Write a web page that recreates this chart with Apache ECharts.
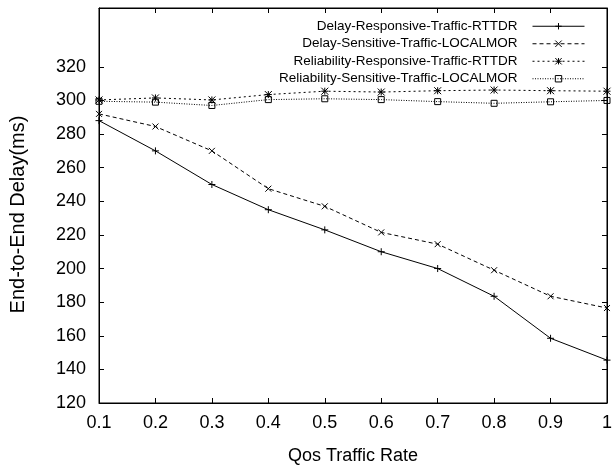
<!DOCTYPE html>
<html>
<head>
<meta charset="utf-8">
<script src="https://cdn.jsdelivr.net/npm/echarts@6/dist/echarts.min.js"></script>
<style>
html,body{margin:0;padding:0;background:#fff;}
#c{width:615px;height:472px;}
</style>
</head>
<body>
<div id="c"></div>
<script>
const categories = ['0.1','0.2','0.3','0.4','0.5','0.6','0.7','0.8','0.9','1'];
const yTicks = [120,140,160,180,200,220,240,260,280,300,320];
const seriesNames = [
  'Delay-Responsive-Traffic-RTTDR',
  'Delay-Sensitive-Traffic-LOCALMOR',
  'Reliability-Responsive-Traffic-RTTDR',
  'Reliability-Sensitive-Traffic-LOCALMOR'
];
const delayResponsive = [288, 270, 250, 235, 223, 210, 200, 183.5, 158.5, 145.5];
const delaySensitive = [292, 284.5, 270, 247.5, 237, 221.5, 214.5, 199, 183.5, 176.5];
const reliabilityResponsive = [300.3, 301.5, 300.3, 303.5, 305.5, 305, 305.8, 306.2, 305.8, 305.5];
const reliabilitySensitive = [299.5, 299, 297, 300.5, 301, 300.5, 299.3, 298.3, 299.2, 300];

const FONT = 'Liberation Sans, Arial, sans-serif';
const SYM_PLUS = 'path://M0,5L10,5M5,0L5,10';
const SYM_X = 'path://M0,0L10,10M10,0L0,10';
const SYM_STAR = 'path://M0,0L10,10M10,0L0,10M5,0L5,10M0,5L10,5';
const SYM_SQ = 'path://M0,0L10,0L10,10L0,10Z';

function mk(name, data, sym, dash, size) {
  return {
    name: name, type: 'line', data: data,
    symbol: sym, symbolSize: size, showAllSymbol: true,
    lineStyle: {color: '#000', width: 1, type: dash},
    itemStyle: {color: 'rgba(0,0,0,0)', borderColor: '#000', borderWidth: 1},
    emphasis: {disabled: true},
    animation: false
  };
}

const chart = echarts.init(document.getElementById('c'), null, {renderer: 'canvas'});
const yMin = 120, yMax = 355;
chart.setOption({
  animation: false,
  backgroundColor: '#fff',
  grid: {left: 98, right: 6, top: 8, bottom: 69, show: true, borderColor: '#000', borderWidth: 1},
  legend: {
    orient: 'vertical', right: 30, top: 18, align: 'right', padding: 0,
    itemWidth: 52, itemHeight: 8, itemGap: 1,
    itemStyle: {color: 'rgba(0,0,0,0)', borderColor: '#000', borderWidth: 1},
    lineStyle: {width: 1, color: '#000'},
    textStyle: {fontFamily: FONT, fontSize: 13.5, color: '#000', lineHeight: 16.5, width: 215, align: 'right', padding: [0, 10, 0, 0]},
    data: seriesNames
  },
  xAxis: [{
    type: 'category', data: categories, boundaryGap: false,
    name: 'Qos Traffic Rate', nameLocation: 'middle', nameGap: 44,
    nameTextStyle: {fontFamily: FONT, fontSize: 18, color: '#000'},
    axisLine: {lineStyle: {color: '#000', width: 1}},
    axisTick: {inside: true, length: 5, lineStyle: {color: '#000'}, alignWithLabel: true},
    axisLabel: {fontFamily: FONT, fontSize: 18, color: '#000', margin: 11, interval: 0},
    splitLine: {show: false}
  }, {
    type: 'category', data: categories, boundaryGap: false, position: 'top',
    axisLine: {lineStyle: {color: '#000', width: 1}},
    axisTick: {inside: true, length: 5, lineStyle: {color: '#000'}},
    axisLabel: {show: false}, splitLine: {show: false}
  }],
  yAxis: [{
    type: 'value', min: yMin, max: yMax, interval: 20,
    name: 'End-to-End Delay(ms)', nameLocation: 'middle', nameGap: 71, nameRotate: 90,
    nameTextStyle: {fontFamily: FONT, fontSize: 20, color: '#000', padding: [0, 18, 0, 0]},
    axisLine: {show: true, lineStyle: {color: '#000', width: 1}},
    axisTick: {show: true, inside: true, length: 5, lineStyle: {color: '#000'}, customValues: yTicks},
    axisLabel: {fontFamily: FONT, fontSize: 18, color: '#000', margin: 13, customValues: yTicks},
    splitLine: {show: false}
  }, {
    type: 'value', min: yMin, max: yMax, interval: 20, position: 'right',
    axisLine: {show: true, lineStyle: {color: '#000', width: 1}},
    axisTick: {show: true, inside: true, length: 5, lineStyle: {color: '#000'}, customValues: yTicks},
    axisLabel: {show: false}, splitLine: {show: false}
  }],
  series: [
    mk(seriesNames[0], delayResponsive, SYM_PLUS, 'solid', 7),
    mk(seriesNames[1], delaySensitive, SYM_X, [4, 3], 6),
    mk(seriesNames[2], reliabilityResponsive, SYM_STAR, [2, 3], 7),
    mk(seriesNames[3], reliabilitySensitive, SYM_SQ, [1, 1.5], 6)
  ]
});
</script>
</body>
</html>
